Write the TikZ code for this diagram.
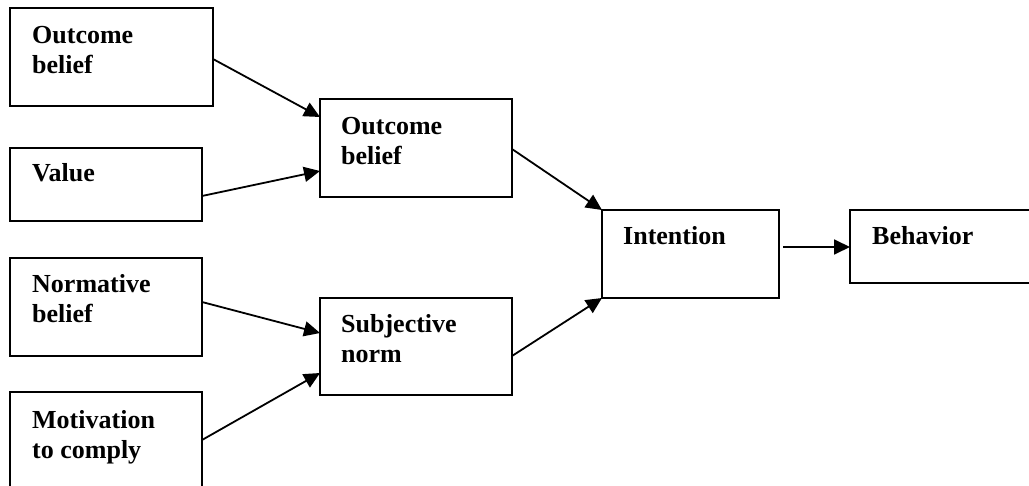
\documentclass[tikz,border=0pt]{standalone}
\usepackage{fontspec}
\setmainfont{Liberation Serif}
\usetikzlibrary{calc,arrows.meta}
\begin{document}
\begin{tikzpicture}[x=1pt,y=-1pt,
  box/.style={draw=black,line width=1.8pt,anchor=north west,inner sep=0pt,outer sep=0pt},
  lbl/.style={anchor=base west,inner sep=0pt,align=left,font=\fontsize{26}{30}\selectfont\bfseries},
  arr/.style={line width=1.8pt,-{Triangle[length=16pt,width=15pt]}}]
\clip (0,0) rectangle (1029,486);
\fill[white] (0,0) rectangle (1029,486);
% boxes
\node[box,minimum width=203pt,minimum height=98pt] (ob1) at (10,8) {};
\node[box,minimum width=192pt,minimum height=73pt] (val) at (10,148) {};
\node[box,minimum width=192pt,minimum height=98pt] (nb) at (10,258) {};
\node[box,minimum width=192pt,minimum height=110pt] (mc) at (10,392) {};
\node[box,minimum width=192pt,minimum height=98pt] (ob2) at (320,99) {};
\node[box,minimum width=192pt,minimum height=97pt] (sn) at (320,298) {};
\node[box,minimum width=177pt,minimum height=88pt] (int) at (602,210) {};
\node[box,minimum width=200pt,minimum height=73pt] (beh) at (850,210) {};
% labels (base anchor = last line's baseline)
\node[lbl] (t1) at ($(ob1.north west)+(22,66)$) {Outcome\\belief};
\node[lbl] (t2) at ($(val.north west)+(22,34)$) {Value};
\node[lbl] (t3) at ($(nb.north west)+(22,65)$) {Normative\\belief};
\node[lbl] (t4) at ($(mc.north west)+(22,66)$) {Motivation\\to comply};
\node[lbl] (t5) at ($(ob2.north west)+(21,66)$) {Outcome\\belief};
\node[lbl] (t6) at ($(sn.north west)+(21,65)$) {Subjective\\norm};
\node[lbl] (t7) at ($(int.north west)+(21,35)$) {Intention};
\node[lbl] (t8) at ($(beh.north west)+(22,35)$) {Behavior};
% arrows
\draw[arr] ($(ob1.north east)+(0,51)$) -- ($(ob2.north west)+(0,18)$);
\draw[arr] ($(val.north east)+(0,48)$) -- ($(ob2.north west)+(0,72)$);
\draw[arr] ($(nb.north east)+(0,44)$) -- ($(sn.north west)+(0,35)$);
\draw[arr] ($(mc.north east)+(0,48)$) -- ($(sn.north west)+(0,75)$);
\draw[arr] ($(ob2.north east)+(0,50)$) -- (int.north west);
\draw[arr] ($(sn.north east)+(0,58)$) -- (int.south west);
\draw[arr] ($(int.north east)+(4,37)$) -- ($(beh.north west)+(0,37)$);
\end{tikzpicture}
\end{document}
